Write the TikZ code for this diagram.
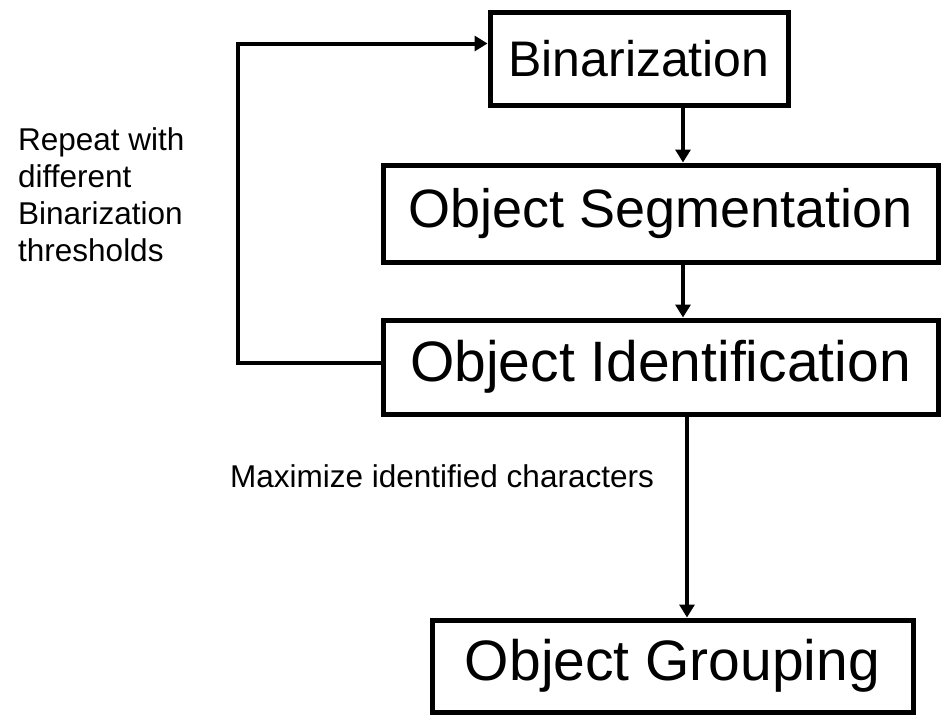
\documentclass[tikz,border=0pt]{standalone}
\usepackage{fontspec}
\setmainfont{Liberation Sans}
\usetikzlibrary{arrows.meta,positioning}

\newcommand{\arrx}{683}
\tikzset{stage/.style={draw,line width=5pt,rectangle,inner sep=0pt,font=\fontsize{54}{60}\selectfont},
         flow/.style={line width=4pt,-{Triangle[width=15pt,length=13pt]}},
         note/.style={inner sep=0pt,align=left,font=\fontsize{31.5}{37}\selectfont}}

\begin{document}
\begin{tikzpicture}[x=1pt,y=-1pt]
    \useasboundingbox (0,0) rectangle (943,715);
    % draw the stages
    \node[stage,minimum width=298pt,minimum height=93pt,font=\fontsize{50}{60}\selectfont] (bin) at (639,58.5) {Binarization};
    \node[stage,minimum width=555pt,minimum height=97pt] (seg) at (660.5,213.5) {Object Segmentation};
    \node[stage,minimum width=555pt,minimum height=94pt,font=\fontsize{57}{60}\selectfont] (ident) at (660.5,367) {Object Identification};
    \node[stage,minimum width=481pt,minimum height=92pt,font=\fontsize{57}{60}\selectfont] (group) at (672.5,666) {Object Grouping};
    % draw the notes
    \node[note,anchor=north west] (repeat) at (18,127) {Repeat with\\different\\Binarization\\thresholds};
    \node[note,anchor=base west] (maxim) at (230,487) {Maximize identified characters};
    % draw the flow down
    \coordinate (colA) at (\arrx,0);
    \coordinate (colB) at (687,0);
    \draw[flow] (bin.south -| colA) -- (seg.north -| colA);
    \draw[flow] (seg.south -| colA) -- (ident.north -| colA);
    \draw[flow] ([yshift=3pt]ident.south -| colB) -- (group.north -| colB);
    % draw the loop back
    \coordinate (loopx) at (238,0);
    \coordinate (loopout) at ([yshift=4pt]ident.west);
    \coordinate (loopin) at ([yshift=15pt]bin.west);
    \draw[flow,line join=miter] (loopout) -| (loopx |- loopin) -- (loopin);
\end{tikzpicture}
\end{document}
